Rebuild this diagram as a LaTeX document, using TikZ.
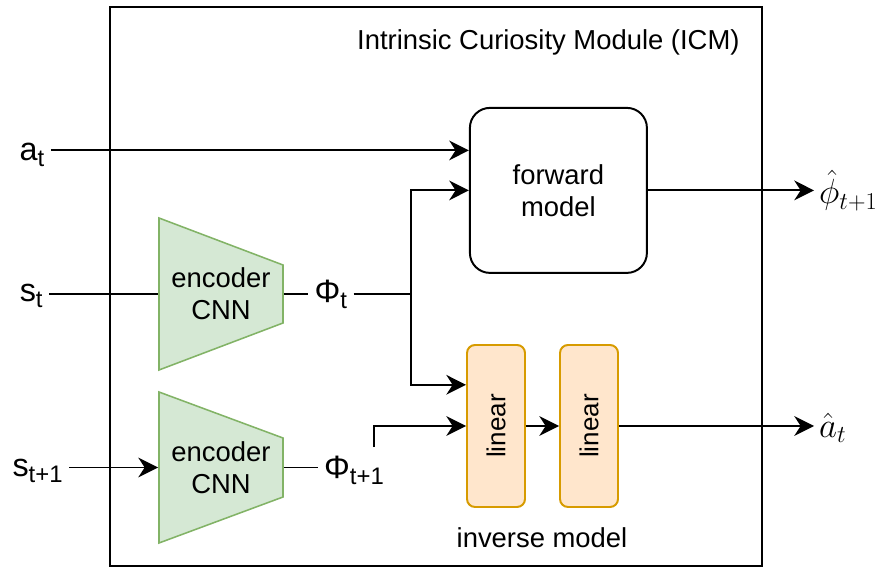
\documentclass[tikz,border=0pt]{standalone}
\usepackage{fontspec}
\setmainfont{Liberation Sans}
\usetikzlibrary{positioning,arrows.meta}

\definecolor{encfill}{HTML}{D5E8D4}
\definecolor{encline}{HTML}{82B366}
\definecolor{linfill}{HTML}{FFE6CC}
\definecolor{linline}{HTML}{D79B00}

\newcommand{\boxfont}{\fontsize{19.5}{23}\selectfont}
\newcommand{\linfont}{\fontsize{18.5}{22}\selectfont}
\newcommand{\sigfont}{\fontsize{23}{26}\selectfont}
\newcommand{\estfont}{\fontsize{24}{28}\selectfont}
\newcommand{\lowidx}[1]{\raisebox{-0.35ex}{\fontsize{17}{17}\selectfont #1}}

\begin{document}
\begin{tikzpicture}[line width=1.4pt]

		\tikzstyle{model} = [draw=black, rectangle, rounded corners=0.5cm, minimum width=4.425cm, minimum height=4.125cm, align=center, font=\boxfont]
		\tikzstyle{encshape} = [draw=encline, fill=encfill, line width=1.1pt]
		\tikzstyle{enctext} = [rectangle, minimum width=3.1cm, minimum height=1.45cm, inner sep=0pt, align=center, font=\boxfont]
		\tikzstyle{linbox} = [draw=linline, fill=linfill, rectangle, rounded corners=0.2cm, minimum width=1.45cm, minimum height=4.05cm, font=\linfont]
		\tikzstyle{flow} = [->, >={Stealth[length=14pt, width=14pt, inset=4.5pt]}]
		\tikzstyle{signal} = [font=\sigfont, inner sep=4pt]
		\tikzstyle{estimate} = [font=\estfont, anchor=west, inner sep=3pt]

		\useasboundingbox (0,0) rectangle (22.05,14.2);

		% module frame
		\draw (2.75,0.05) rectangle (19.05,14.025);
		\node[font=\boxfont, anchor=east] (icm_title) at (18.63,13.15) {Intrinsic Curiosity Module (ICM)};

		\node[model] (fwd) at (13.96,9.44) {forward\\model};

		% the two encoders, wide side facing the input
		\draw[encshape] (3.975,8.75) -- (7.075,7.575) -- (7.075,6.125) -- (3.975,4.95) -- cycle;
		\draw[encshape] (3.975,4.4) -- (7.075,3.25) -- (7.075,1.775) -- (3.975,0.625) -- cycle;
		\node[enctext] (enc_t) at (5.525,6.85) {encoder\\CNN};
		\node[enctext] (enc_tn) at (5.525,2.5125) {encoder\\CNN};

		\node[linbox] (lin_a) at (12.4,3.55) {\rotatebox{90}{linear}};
		\node[linbox] (lin_b) at (14.725,3.55) {\rotatebox{90}{linear}};
		\node[font=\boxfont] (inv_lbl) at (13.55,0.75) {inverse model};

		\node[signal] (at_in) at (0.8,10.33) {a\lowidx{t}};
		\node[signal] (st_in) at (0.78,6.8) {s\lowidx{t}};
		\node[signal] (stn_in) at (0.94,2.43) {s\lowidx{t+1}};

		\node[signal] (phi_t) at (8.27,6.83) {Φ\lowidx{t}};
		\node[signal] (phi_tn) at (8.85,2.45) {Φ\lowidx{t+1}};

		\node[estimate] (phi_hat) at (20.35,9.44) {$\hat{\phi}_{t+1}$};
		\node[estimate] (a_hat) at (20.35,3.5) {$\hat{a}_t$};

		\coordinate (fwd_in_a) at ([yshift=1cm]fwd.west);
		\coordinate (lin_in_a) at ([yshift=1.03cm]lin_a.west);
		\coordinate (split) at ([xshift=1.43cm]enc_t.east -| phi_t.east);
		\coordinate (phi_tn_out) at ([xshift=0.5cm, yshift=0.05cm]phi_tn.north);

		% inputs
		\draw[flow] (at_in.east |- fwd_in_a) -- (fwd_in_a);
		\draw (st_in.east |- enc_t.west) -- (enc_t.west);
		\draw[flow] (stn_in.east |- enc_tn.west) -- (enc_tn.west);

		% encoded states
		\draw (enc_t.east) -- (enc_t.east -| phi_t.west);
		\draw (enc_tn.east) -- (enc_tn.east -| phi_tn.west);
		\draw (enc_t.east -| phi_t.east) -- (split);
		\draw[flow] (split) |- (fwd.west);
		\draw[flow] (split) |- (lin_in_a);
		\draw[flow] (phi_tn_out) |- (lin_a.west);

		% outputs
		\draw[flow] (lin_a) -- (lin_b);
		\draw[flow] (fwd.east) -- (fwd.east -| phi_hat.west);
		\draw[flow] (lin_b.east) -- (lin_b.east -| a_hat.west);

	\end{tikzpicture}
\end{document}
